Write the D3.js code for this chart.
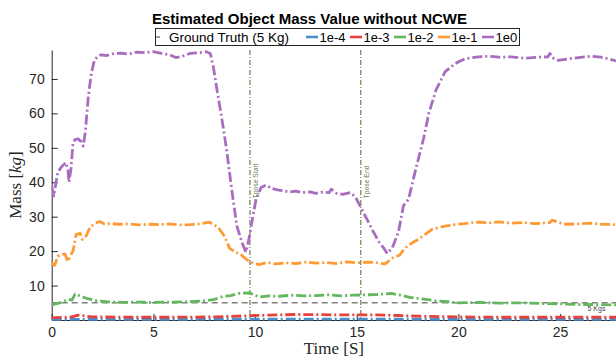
<!DOCTYPE html>
<html>
<head>
<meta charset="utf-8">
<script src="https://cdn.jsdelivr.net/npm/d3@7"></script>
<style>
  body { margin: 0; background: #fff; }
  svg { display: block; font-family: "Liberation Sans", Arial, sans-serif; }
  .eje text { font-size: 14px; fill: #262626; }
  .eje path, .eje line { stroke: #262626; }
</style>
</head>
<body>
<div id="graf"></div>
<script>
// I. Data
titleText = 'Estimated Object Mass Value without NCWE'
seriesNames = ['1e-4', '1e-3', '1e-2', '1e-1', '1e0']
seriesColors = ['#4a8fcb', '#e6413d', '#62b85c', '#ff9a33', '#a96cbf']
xTicks = [0, 5, 10, 15, 20, 25]
yTicks = [10, 20, 30, 40, 50, 60, 70]
groundTruth = 5
eventTimes = [9.75, 15.2]
eventLabels = ['Tpose Start', 'Tpose End']

t1e4 = [0, 5, 10, 15, 20, 25, 27.75]
v1e4 = [0.2, 0.2, 0.25, 0.25, 0.2, 0.2, 0.2]

t1e3 = [0, 1.0, 1.3, 2.0, 4, 6, 8, 9.5, 10.5, 12, 14, 16, 17, 18, 20, 22, 24, 26, 27.75]
v1e3 = [0.6, 0.9, 1.4, 0.9, 0.8, 0.8, 0.9, 1.2, 1.4, 1.6, 1.5, 1.5, 1.3, 1.1, 0.9, 0.8, 0.8, 0.8, 0.8]

t1e2 = [0, 0.4, 0.8, 1.0, 1.15, 1.4, 1.7, 2.2, 2.7, 3.5, 4.3, 5.0, 5.8, 6.8, 7.6, 8.0, 8.4, 8.8, 9.2, 9.7,
        10.2, 10.7, 11.2, 11.8, 12.4, 13.0, 13.6, 14.2, 14.8, 15.4, 16.0, 16.7, 17.2, 17.6, 18.0, 18.5,
        19.0, 19.5, 20.0, 21.0, 22.0, 23.0, 24.0, 25.0, 25.8, 26.6, 27.75]
v1e2 = [4.4, 5.0, 6.0, 5.8, 7.5, 7.0, 6.3, 5.6, 5.3, 5.1, 5.2, 5.1, 5.2, 5.3, 5.6, 6.0, 6.8, 7.1, 7.7, 7.9,
        6.7, 7.0, 6.9, 7.2, 7.0, 7.1, 7.3, 7.0, 7.2, 7.3, 7.4, 7.7, 7.2, 6.6, 6.3, 5.9,
        5.5, 5.3, 5.0, 5.1, 4.9, 5.0, 4.8, 4.7, 4.5, 4.5, 4.4]

t1e1 = [0, 0.15, 0.3, 0.5, 0.65, 0.8, 0.95, 1.05, 1.2, 1.4, 1.5, 1.65, 1.88, 2.1, 2.35, 2.6, 2.9, 3.3, 3.8,
        4.3, 4.8, 5.3, 5.8, 6.3, 6.8, 7.3, 7.75, 8.0, 8.2, 8.5, 8.75, 9.0, 9.3, 9.6, 9.9, 10.2, 10.6,
        11.0, 11.5, 12.0, 12.5, 13.0, 13.5, 14.0, 14.5, 15.0, 15.5, 15.9, 16.4, 16.75, 17.1, 17.4,
        17.75, 18.05, 18.4, 18.7, 19.0, 19.4, 19.9, 20.3, 20.7, 21.0, 21.5, 22.0, 22.6, 23.2, 23.8,
        24.5, 24.6, 25.2, 25.9, 26.5, 27.1, 27.75]
v1e1 = [16.5, 15.9, 18.5, 19.0, 19.2, 17.0, 19.0, 20.0, 24.8, 25.2, 23.4, 23.9, 26.8, 28.0, 28.6, 27.9, 28.0, 27.8, 27.9,
        27.6, 27.8, 27.7, 27.9, 27.6, 27.7, 27.9, 28.4, 27.6, 26.8, 24.3, 20.8, 19.8, 19.0, 17.5, 16.5, 16.1, 16.7,
        16.3, 16.6, 16.4, 16.8, 16.5, 16.7, 16.4, 16.9, 16.6, 16.8, 16.7, 16.3, 18.0, 18.8, 21.0,
        22.5, 23.5, 25.0, 26.3, 26.8, 27.3, 27.8, 28.0, 28.3, 28.4, 28.2, 28.5, 28.1, 28.3, 28.0,
        28.3, 29.0, 27.8, 27.9, 28.1, 27.8, 27.7]

t1e0 = [0, 0.1, 0.3, 0.5, 0.7, 0.8, 0.85, 0.95, 1.05, 1.15, 1.3, 1.45, 1.55, 1.65, 1.8, 1.95, 2.1, 2.25, 2.4,
        2.7, 3.0, 3.4, 3.8, 4.2, 4.6, 5.0, 5.4, 5.8, 6.1, 6.4, 6.8, 7.2, 7.6, 7.8, 7.95, 8.1, 8.35, 8.6,
        8.85, 9.1, 9.35, 9.55, 9.7, 9.9, 10.05, 10.3, 10.55, 10.8, 11.1, 11.4, 11.7, 12.0, 12.3, 12.7,
        13.0, 13.3, 13.65, 13.75, 14.0, 14.3, 14.7, 14.95, 15.2, 15.5, 15.8, 16.1, 16.35, 16.5, 16.75,
        17.05, 17.3, 17.55, 17.9, 18.3, 18.55, 18.9, 19.35, 19.85, 20.35, 21.0, 21.5, 22.0, 22.6, 23.3,
        23.9, 24.4, 24.5, 24.6, 24.9, 25.4, 25.9, 26.5, 27.0, 27.4, 27.75]
v1e0 = [38.8, 36.0, 43.0, 44.6, 45.7, 43.5, 40.0, 44.0, 51.5, 52.4, 52.6, 51.8, 50.5, 54.4, 64.9, 71.6, 75.5, 76.4, 77.0,
        76.8, 77.3, 77.5, 77.2, 77.8, 77.6, 77.9, 77.4, 77.0, 76.2, 76.5, 77.4, 77.6, 77.9, 77.4, 73.5, 67.8, 59.1, 49.5,
        38.0, 27.4, 22.6, 19.7, 23.6, 30.3, 35.1, 38.5, 39.2, 38.2, 37.8, 37.5, 37.2, 37.4, 37.0, 37.2,
        36.8, 37.1, 37.0, 38.0, 36.8, 36.5, 37.0, 35.6, 32.7, 29.3, 25.8, 22.6, 20.7, 19.3, 21.0,
        25.5, 33.2, 35.1, 43.7, 53.0, 60.1, 66.8, 72.1, 74.5, 75.9, 76.4, 76.6, 76.3, 76.4, 76.0,
        76.3, 76.4, 77.4, 76.2, 75.4, 75.8, 76.2, 76.6, 76.3, 75.8, 75.2]

seriesT = [t1e4, t1e3, t1e2, t1e1, t1e0]
seriesV = [v1e4, v1e3, v1e2, v1e1, v1e0]

// II. Setup
ancho_total = 616
alto_total = 360
margins = { top: 50, left: 51.7, right: 0, bottom: 40 }
ancho = ancho_total - margins.left - margins.right
alto = alto_total - margins.top - margins.bottom

svg = d3.select('#graf').append('svg')
        .attr('width', ancho_total)
        .attr('height', alto_total)

g = svg.append('g')
       .attr('transform', `translate(${ margins.left }, ${ margins.top })`)

x = d3.scaleLinear().domain([0, 27.75]).range([0, ancho])
y = d3.scaleLinear().domain([0, 78.4]).range([alto, 0])

svg.append('defs').append('clipPath').attr('id', 'clip')
   .append('rect').attr('width', ancho).attr('height', alto + 2).attr('y', -1)

// III. Axes (MATLAB style inward ticks)
xAxisGroup = g.append('g')
              .attr('class', 'eje')
              .attr('transform', `translate(0, ${ alto })`)
              .call(d3.axisBottom(x).tickValues(xTicks).tickSizeInner(-6).tickSizeOuter(0).tickPadding(7))
yAxisGroup = g.append('g')
              .attr('class', 'eje')
              .call(d3.axisLeft(y).tickValues(yTicks).tickSizeInner(-6).tickSizeOuter(0).tickPadding(7))

// IV. Reference lines
plot = g.append('g').attr('clip-path', 'url(#clip)')

plot.append('line')
    .attr('x1', x(0)).attr('x2', x(27.75))
    .attr('y1', y(groundTruth)).attr('y2', y(groundTruth))
    .attr('stroke', '#808080')
    .attr('stroke-width', 1.5)
    .attr('stroke-dasharray', '6,4')

g.append('text')
 .attr('x', x(26.35))
 .attr('y', y(groundTruth) + 8.5)
 .style('font-size', '7px')
 .style('fill', '#404040')
 .text('5 Kgs')

eventTimes.forEach((t, i) => {
  plot.append('line')
      .attr('x1', x(t)).attr('x2', x(t))
      .attr('y1', 0).attr('y2', alto)
      .attr('stroke', '#6f7f4f')
      .attr('stroke-width', 1.2)
      .attr('stroke-dasharray', '5,2,1,2')
  g.append('text')
   .attr('transform', `translate(${ x(t) + 8.5 }, ${ y(35.3) }) rotate(-90)`)
   .style('font-size', '6.8px')
   .style('fill', '#6f7f4f')
   .text(eventLabels[i])
})

// V. Series
linea = d3.line()
          .x(d => x(d[0]))
          .y(d => y(d[1]))

seriesNames.forEach((n, i) => {
  pts = seriesT[i].map((t, j) => [t, seriesV[i][j]])
  plot.append('path')
      .datum(pts)
      .attr('d', linea)
      .attr('fill', 'none')
      .attr('stroke', seriesColors[i])
      .attr('stroke-width', 2.8)
      .attr('stroke-linejoin', 'round')
      .attr('stroke-dasharray', '10,3,2,3')
})

// VI. Titles
svg.append('text')
   .attr('x', 309.5)
   .attr('y', 23.5)
   .attr('text-anchor', 'middle')
   .style('font-size', '15px')
   .style('font-weight', 'bold')
   .style('fill', '#000')
   .text(titleText)

svg.append('text')
   .attr('x', margins.left + ancho / 2)
   .attr('y', 354)
   .attr('text-anchor', 'middle')
   .style('font-family', '"Liberation Serif", "DejaVu Serif", serif')
   .style('font-size', '17px')
   .style('fill', '#262626')
   .text('Time [S]')

yLabel = svg.append('text')
   .attr('transform', `translate(21, ${ margins.top + alto / 2 }) rotate(-90)`)
   .attr('text-anchor', 'middle')
   .style('font-family', '"Liberation Serif", "DejaVu Serif", serif')
   .style('font-size', '17px')
   .style('fill', '#262626')
yLabel.append('tspan').text('Mass [')
yLabel.append('tspan').style('font-style', 'italic').text('kg')
yLabel.append('tspan').text(']')

// VII. Legend
leg = svg.append('g')
leg.append('rect')
   .attr('x', 155.5).attr('y', 28.5)
   .attr('width', 364).attr('height', 17)
   .attr('fill', '#fff')
   .attr('stroke', '#262626')
   .attr('stroke-width', 1)
leg.append('line')
   .attr('x1', 156).attr('x2', 160)
   .attr('y1', 37).attr('y2', 37)
   .attr('stroke', '#808080').attr('stroke-width', 1.5)
leg.append('text')
   .attr('x', 169).attr('y', 41.8)
   .style('font-size', '13.5px')
   .text('Ground Truth (5 Kg)')

seriesNames.forEach((n, i) => {
  cx = 306 + i * 44
  leg.append('line')
     .attr('x1', cx).attr('x2', cx + 12)
     .attr('y1', 37).attr('y2', 37)
     .attr('stroke', seriesColors[i]).attr('stroke-width', 2.6)
  leg.append('text')
     .attr('x', cx + 13.5).attr('y', 41.8)
     .style('font-size', '13px')
     .text(n)
})
</script>
</body>
</html>
